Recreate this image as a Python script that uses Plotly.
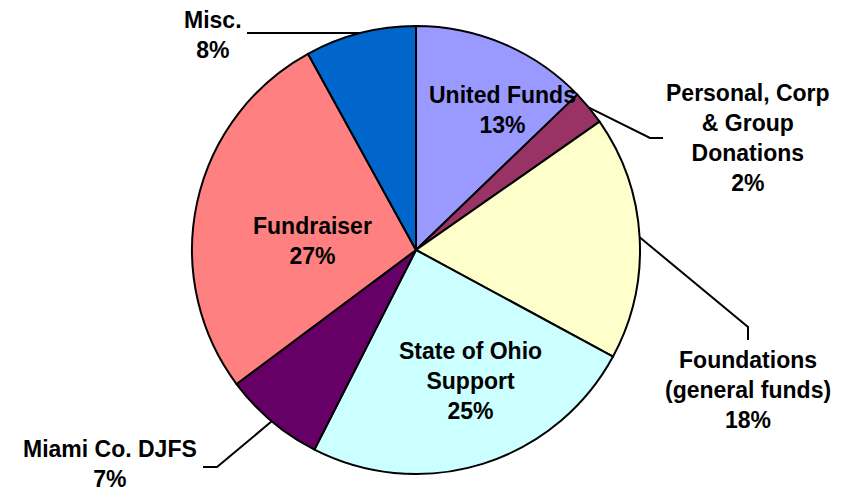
import math
import plotly.graph_objects as go

# ---- data ----
categories = ["United Funds", "Personal, Corp & Group Donations", "Foundations (general funds)",
              "State of Ohio Support", "Miami Co. DJFS", "Fundraiser", "Misc."]
label_lines = ["United Funds", "Personal, Corp<br>& Group<br>Donations", "Foundations<br>(general funds)",
               "State of Ohio<br>Support", "Miami Co. DJFS", "Fundraiser", "Misc."]
values = [12.8, 2.49, 17.6, 24.6, 7.3, 27.2, 8.01]
colors = ["#9999FF", "#993366", "#FFFFCC", "#CCFFFF", "#660066", "#FF8080", "#0066CC"]

W, H = 849, 490
OFF = 8  # page body margin offset
CX, CY, R = 416, 250, 224

# label layout (window pixel centres) and leader-line bends (window pixels)
label_pos = {
    "United Funds": (502, 110),
    "Personal, Corp & Group Donations": (748, 138),
    "Foundations (general funds)": (748, 390),
    "State of Ohio Support": (470, 381),
    "Miami Co. DJFS": (110, 464),
    "Fundraiser": (312, 241),
    "Misc.": (213, 35),
}
leader_bends = {
    "Personal, Corp & Group Donations": [(650, 138), (663, 138)],
    "Foundations (general funds)": [(748, 327), (748, 340)],
    "Miami Co. DJFS": [(217, 467), (203, 467)],
    "Misc.": [(247, None)],
}

def px(x):
    return (x - OFF) / W

def py(y):
    return 1 - (y - OFF) / H

fig = go.Figure(go.Pie(
    labels=categories,
    values=values,
    sort=False,
    direction="clockwise",
    rotation=0,
    marker=dict(colors=colors, line=dict(color="black", width=2)),
    textinfo="none",
    hoverinfo="label+percent",
    domain=dict(x=[px(CX - R), px(CX + R)], y=[py(CY + R), py(CY - R)]),
    showlegend=False,
))

total = sum(values)
font = dict(family="Liberation Sans, Arial, sans-serif", size=23, color="black")
annotations = []
shapes = []
cum = 0.0
for cat, lines, v in zip(categories, label_lines, values):
    mid = (cum + v / 2) / total
    cum += v
    pct = round(v / total * 100)
    x, y = label_pos[cat]
    annotations.append(dict(
        x=px(x), y=py(y), xref="paper", yref="paper",
        text=f"<b>{lines}<br>{pct}%</b>", showarrow=False,
        xanchor="center", yanchor="middle", align="center", font=font,
    ))
    if cat in leader_bends:
        ang = 2 * math.pi * mid
        sx = CX + R * math.sin(ang)
        sy = CY - R * math.cos(ang)
        pts = [(sx, sy)]
        for bx, by in leader_bends[cat]:
            pts.append((bx, sy if by is None else by))
        path = "M " + " L ".join(f"{px(a):.5f},{py(b):.5f}" for a, b in pts)
        shapes.append(dict(type="path", path=path, xref="paper", yref="paper",
                           line=dict(color="black", width=2)))

fig.update_layout(
    width=W, height=H,
    margin=dict(l=0, r=0, t=0, b=0),
    paper_bgcolor="white", plot_bgcolor="white",
    annotations=annotations, shapes=shapes,
)

fig.write_html("out.html")
